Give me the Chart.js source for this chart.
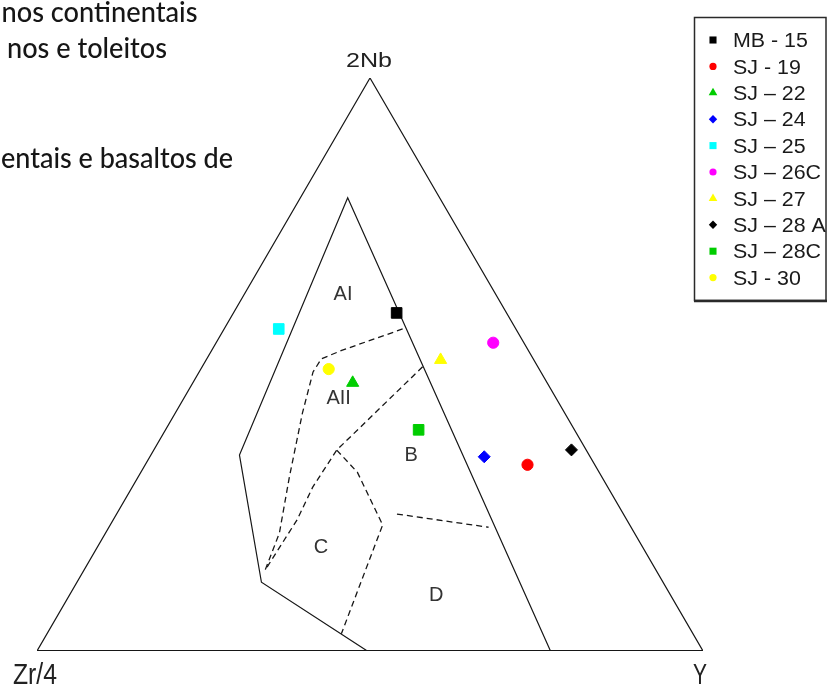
<!DOCTYPE html>
<html>
<head>
<meta charset="utf-8">
<script src="https://cdn.jsdelivr.net/npm/chart.js@4.4.1/dist/chart.umd.min.js"></script>
<style>
  html, body { margin: 0; padding: 0; background: #ffffff; overflow: hidden; }
  canvas { display: block; }
</style>
</head>
<body>
<canvas id="c" width="829" height="684" style="width:829px;height:684px"></canvas>
<script>
// Sample compositions, percent of (2Nb, Zr/4, Y)
const sampleNames = ['MB - 15', 'SJ - 19', 'SJ \u2013 22', 'SJ \u2013 24', 'SJ \u2013 25',
                     'SJ \u2013 26C', 'SJ \u2013 27', 'SJ \u2013 28 A', 'SJ \u2013 28C', 'SJ - 30'];
const nb2 = [59.0, 32.5, 46.8, 33.9, 56.2, 53.8, 50.8, 35.1, 38.6, 49.2];
const zr4 = [16.5, 10.1, 29.2, 15.9, 35.6,  4.6, 14.0,  2.2, 23.4, 31.6];
const yv  = [24.5, 57.4, 24.0, 50.2,  8.2, 41.6, 35.2, 62.7, 38.0, 19.2];
const sampleColors = ['#000000', '#ff0000', '#00cd00', '#0000ff', '#00ffff',
                      '#ff00ff', '#ffff00', '#000000', '#00cd00', '#ffff00'];
const sampleShapes = ['rect', 'circle', 'triangle', 'rectRot', 'rect',
                      'circle', 'triangle', 'rectRot', 'rect', 'circle'];

// Meschede (1986) field boundaries, vertices as [2Nb, Zr/4, Y]
const outerTriangle = [[100, 0, 0], [0, 100, 0], [0, 0, 100], [100, 0, 0]];
const baseEdge = [[0, 100, 0], [0, 0, 100]];
const fieldOutline = [[0, 22.9, 77.1], [79.1, 13.8, 7.1], [34.2, 52.5, 13.3], [12.0, 60.3, 27.7], [0, 50.4, 49.6]];
const lineAI_AII = [[56.2, 17.0, 26.8], [52.5, 27.9, 19.6], [51.0, 31.8, 17.2], [48.7, 34.2, 17.1],
                    [41.5, 39.4, 19.1], [30.4, 46.9, 22.7], [20.6, 53.3, 26.1], [14.1, 58.7, 27.2]];
const lineAII_B = [[49.6, 17.3, 33.1], [35.1, 37.5, 27.5], [28.6, 44.3, 27.1], [22.9, 49.5, 27.6], [14.1, 58.7, 27.2]];
const lineB_C_D = [[35.1, 37.5, 27.5], [31.2, 36.3, 32.5], [22.0, 37.1, 40.9], [3.0, 52.8, 44.2]];
const lineB_D = [[23.9, 34.0, 42.1], [21.6, 21.4, 57.0]];

const fieldLabels = ['AI', 'AII', 'B', 'C', 'D'];
const fieldLabelPos = [[62.5, 22.8, 14.7], [44.4, 32.5, 23.1], [34.4, 26.6, 39.0], [18.3, 48.2, 33.5], [9.9, 35.1, 55.0]];

const apexLabels = ['2Nb', 'Zr/4', 'Y'];
const pageLines = ['nos continentais', 'nos e toleitos', 'entais e basaltos de'];

// ternary -> cartesian (2Nb at top, Zr/4 bottom left, Y bottom right)
function toXY(t) {
  const s = t[0] + t[1] + t[2];
  return { x: (t[2] + t[0] / 2) / s, y: t[0] / s };
}

function lineSet(points, width, dash) {
  return {
    data: points.map(toXY), showLine: true, fill: false, tension: 0,
    borderColor: '#161616', borderWidth: width, borderDash: dash || [],
    pointRadius: 0, pointHoverRadius: 0, order: 2
  };
}

const markerRadius = { rect: 7.5, circle: 5.6, triangle: 7, rectRot: 6 };

const datasets = sampleNames.map((name, i) => ({
  label: name,
  data: [toXY([nb2[i], zr4[i], yv[i]])],
  pointStyle: sampleShapes[i],
  pointRadius: markerRadius[sampleShapes[i]],
  pointBackgroundColor: sampleColors[i],
  pointBorderColor: sampleColors[i],
  pointBorderWidth: 1,
  showLine: false,
  order: 0
}));
datasets.push(
  lineSet(outerTriangle, 1.2),
  lineSet(baseEdge, 2.2),
  lineSet(fieldOutline, 1.2),
  lineSet(lineAI_AII, 1.3, [6, 4]),
  lineSet(lineAII_B, 1.3, [6, 4]),
  lineSet(lineB_C_D, 1.3, [6, 4]),
  lineSet(lineB_D, 1.3, [6, 4])
);

// text squeezed or stretched horizontally to a given width
function fitText(ctx, text, x, y, width, font, align) {
  ctx.save();
  ctx.font = font;
  ctx.textBaseline = 'alphabetic';
  ctx.textAlign = 'left';
  const w = ctx.measureText(text).width;
  const k = width / w;
  let left = x;
  if (align === 'center') left = x - width / 2;
  ctx.translate(left, y);
  ctx.scale(k, 1);
  ctx.fillText(text, 0, 0);
  ctx.restore();
}

function drawMarker(ctx, shape, x, y, r, color) {
  ctx.save();
  ctx.fillStyle = color;
  ctx.beginPath();
  if (shape === 'rect') {
    const s = r * Math.SQRT1_2;
    ctx.rect(x - s, y - s, 2 * s, 2 * s);
  } else if (shape === 'circle') {
    ctx.arc(x, y, r, 0, Math.PI * 2);
  } else if (shape === 'triangle') {
    for (let k = 0; k < 3; k++) {
      const a = k * 2 * Math.PI / 3;
      const px = x + Math.sin(a) * r, py = y - Math.cos(a) * r;
      if (k === 0) ctx.moveTo(px, py); else ctx.lineTo(px, py);
    }
    ctx.closePath();
  } else {
    ctx.moveTo(x - r, y); ctx.lineTo(x, y - r); ctx.lineTo(x + r, y); ctx.lineTo(x, y + r);
    ctx.closePath();
  }
  ctx.fill();
  ctx.restore();
}

const annotations = {
  id: 'annotations',
  afterDraw(chart) {
    const ctx = chart.ctx;
    const sx = chart.scales.x, sy = chart.scales.y;
    const px = t => { const p = toXY(t); return [sx.getPixelForValue(p.x), sy.getPixelForValue(p.y)]; };

    // page text above the diagram
    ctx.fillStyle = '#161616';
    const pf = '500 28px Lato, "Open Sans", sans-serif';
    fitText(ctx, pageLines[0], 1.5, 22, 196, pf);
    fitText(ctx, pageLines[1], 7, 58, 160, pf);
    fitText(ctx, pageLines[2], 1, 168, 232, pf);

    // apex labels
    ctx.fillStyle = '#222222';
    const top = px([100, 0, 0]);
    fitText(ctx, apexLabels[0], top[0] - 1, 67, 46, '21px "Liberation Sans", Arial, sans-serif', 'center');
    fitText(ctx, apexLabels[1], 13, 684, 44, '30px "Liberation Sans", Arial, sans-serif');
    fitText(ctx, apexLabels[2], 700, 684, 14, '30px "Liberation Sans", Arial, sans-serif', 'center');

    // field labels
    ctx.save();
    ctx.fillStyle = '#333333';
    ctx.font = '20px "Liberation Sans", Arial, sans-serif';
    ctx.textAlign = 'center';
    ctx.textBaseline = 'alphabetic';
    fieldLabels.forEach((lab, i) => {
      const p = px(fieldLabelPos[i]);
      ctx.fillText(lab, p[0], p[1] + 7.2);
    });
    ctx.restore();

    // legend box
    ctx.save();
    ctx.strokeStyle = '#2a2a2a';
    ctx.lineWidth = 1.5;
    ctx.strokeRect(694.5, 17.5, 131.5, 283);
    ctx.lineWidth = 2.5;
    ctx.beginPath();
    ctx.moveTo(694, 301); ctx.lineTo(827, 301);
    ctx.stroke();
    ctx.restore();
    const legendR = { rect: 5, circle: 3.6, triangle: 5, rectRot: 4.2 };
    sampleNames.forEach((name, i) => {
      const cy = 40 + i * 26.4;
      drawMarker(ctx, sampleShapes[i], 713, cy, legendR[sampleShapes[i]], sampleColors[i]);
      ctx.save();
      ctx.font = '20px "Liberation Sans", Arial, sans-serif';
      const w = ctx.measureText(name).width * 1.07;
      ctx.restore();
      ctx.fillStyle = '#1a1a1a';
      fitText(ctx, name, 733, cy + 7.2, w, '20px "Liberation Sans", Arial, sans-serif');
    });
  }
};

new Chart(document.getElementById('c'), {
  type: 'scatter',
  data: { datasets },
  options: {
    responsive: false,
    devicePixelRatio: 1,
    animation: false,
    events: [],
    layout: { padding: { left: 37, right: 126, top: 78, bottom: 33 } },
    scales: {
      x: { type: 'linear', min: 0, max: 1, display: false },
      y: { type: 'linear', min: 0, max: 1, display: false }
    },
    plugins: { legend: { display: false }, tooltip: { enabled: false } }
  },
  plugins: [annotations]
});
</script>
</body>
</html>
